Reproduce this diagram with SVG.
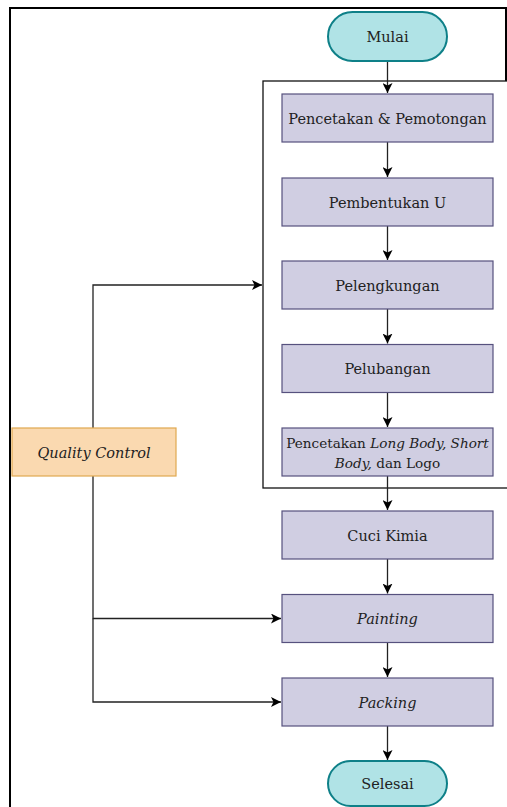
<svg xmlns="http://www.w3.org/2000/svg" width="507" height="807" viewBox="0 0 507 807">
<style>
.frame{fill:none;stroke:#000;stroke-width:2}
.cont{fill:none;stroke:#111;stroke-width:1.3}
.proc{fill:#d0cee2;stroke:#56517e;stroke-width:1.2}
.term{fill:#b0e3e6;stroke:#0e8088;stroke-width:2}
.qc{fill:#fad9b0;stroke:#e0a850;stroke-width:1.2}
.lbl{font-family:'DejaVu Serif',serif;font-size:14.5px;fill:#222;text-anchor:middle}
.sm{font-size:13.6px}
.it{font-style:italic}
.conn{fill:none;stroke:#222;stroke-width:1.3}
</style>
<defs>
<marker id="ah" viewBox="0 0 10 10" refX="10" refY="5" markerWidth="10" markerHeight="10" markerUnits="userSpaceOnUse" orient="auto">
<path d="M0,0 L10,5 L0,10 L2.5,5 Z" fill="#000"/>
</marker>
</defs>
<rect width="507" height="807" fill="#fff"/>
<path class="frame" d="M10,807 V8 H506 V81"/>
<rect id="container" class="cont" x="263" y="81" width="250" height="407"/>

<g id="connectors">
<path class="conn" d="M387.5,61 V93" marker-end="url(#ah)"/>
<path class="conn" d="M387.5,142 V177" marker-end="url(#ah)"/>
<path class="conn" d="M387.5,226 V260" marker-end="url(#ah)"/>
<path class="conn" d="M387.5,309 V343.5" marker-end="url(#ah)"/>
<path class="conn" d="M387.5,392.5 V427" marker-end="url(#ah)"/>
<path class="conn" d="M387.5,476 V510" marker-end="url(#ah)"/>
<path class="conn" d="M387.5,559 V593.5" marker-end="url(#ah)"/>
<path class="conn" d="M387.5,642.5 V677" marker-end="url(#ah)"/>
<path class="conn" d="M387.5,726 V760" marker-end="url(#ah)"/>
<path class="conn" d="M93,428 V285 H262" marker-end="url(#ah)"/>
<path class="conn" d="M93,476 V618.5 H281" marker-end="url(#ah)"/>
<path class="conn" d="M93,618.5 V702 H281" marker-end="url(#ah)"/>
</g>

<g id="mulai">
<rect class="term" x="328" y="12" width="119" height="49" rx="24.5" ry="24.5"/>
<text class="lbl" x="387.5" y="41.5">Mulai</text>
</g>
<g id="pencetakan-pemotongan">
<rect class="proc" x="282" y="94" width="211" height="48"/>
<text class="lbl" x="387.5" y="123.5">Pencetakan &amp; Pemotongan</text>
</g>
<g id="pembentukan-u">
<rect class="proc" x="282" y="178" width="211" height="48"/>
<text class="lbl" x="387.5" y="207.5">Pembentukan U</text>
</g>
<g id="pelengkungan">
<rect class="proc" x="282" y="261" width="211" height="48"/>
<text class="lbl" x="387.5" y="290.5">Pelengkungan</text>
</g>
<g id="pelubangan">
<rect class="proc" x="282" y="344.5" width="211" height="48"/>
<text class="lbl" x="387.5" y="374">Pelubangan</text>
</g>
<g id="pencetakan-body-logo">
<rect class="proc" x="282" y="428" width="211" height="48"/>
<text class="lbl sm" x="387.5" y="448">Pencetakan <tspan class="it">Long Body, Short</tspan></text>
<text class="lbl sm" x="387.5" y="468"><tspan class="it">Body,</tspan> dan Logo</text>
</g>
<g id="cuci-kimia">
<rect class="proc" x="282" y="511" width="211" height="48"/>
<text class="lbl" x="387.5" y="540.5">Cuci Kimia</text>
</g>
<g id="painting">
<rect class="proc" x="282" y="594.5" width="211" height="48"/>
<text class="lbl it" x="387.5" y="624">Painting</text>
</g>
<g id="packing">
<rect class="proc" x="282" y="678" width="211" height="48"/>
<text class="lbl it" x="387.5" y="707.5">Packing</text>
</g>
<g id="selesai">
<rect class="term" x="328" y="761" width="119" height="45" rx="22.5" ry="22.5"/>
<text class="lbl" x="387.5" y="788.5">Selesai</text>
</g>
<g id="quality-control">
<rect class="qc" x="12" y="428" width="164" height="48"/>
<text class="lbl it" x="94" y="457.5">Quality Control</text>
</g>
</svg>
